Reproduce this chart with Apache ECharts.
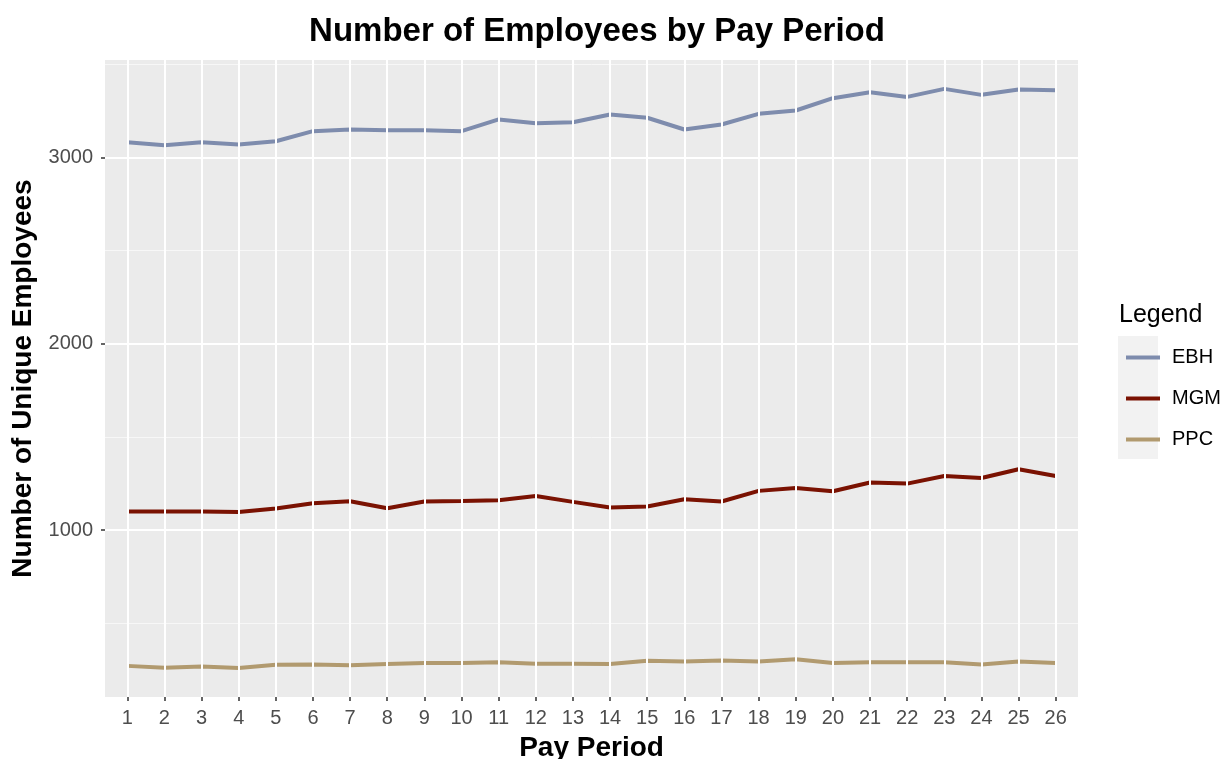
<!DOCTYPE html>
<html>
<head>
<meta charset="utf-8">
<script src="https://cdn.jsdelivr.net/npm/echarts@6/dist/echarts.min.js"></script>
<style>html,body{margin:0;padding:0;background:#fff}#c{width:1224px;height:759px}</style>
</head>
<body>
<div id="c"></div>
<script>
const periods = [1,2,3,4,5,6,7,8,9,10,11,12,13,14,15,16,17,18,19,20,21,22,23,24,25,26];
const ebh = [3082,3066,3082,3070,3087,3141,3150,3146,3146,3141,3204,3184,3189,3231,3213,3150,3177,3234,3252,3318,3350,3325,3368,3336,3365,3361];
const mgm = [1100,1100,1100,1098,1116,1145,1155,1118,1154,1157,1161,1184,1152,1122,1127,1166,1154,1211,1227,1209,1256,1250,1291,1280,1327,1291];
const ppc = [272,262,269,260,278,280,275,282,287,288,292,283,283,282,299,296,301,296,307,288,291,292,292,280,296,288];
const yTicks = [1000,2000,3000];
const yMinor = [500,1500,2500,3500];
const seriesNames = ['EBH','MGM','PPC'];
const colors = ['#7e8cad','#7a1202','#b19a6f'];

const font = 'Liberation Sans, Arial, sans-serif';
const chart = echarts.init(document.getElementById('c'), null, {renderer:'canvas'});

function pairs(arr){ return arr.map((v,i)=>[periods[i], v]); }

const gridLines = [];
yMinor.forEach(v=>gridLines.push({yAxis:v, lineStyle:{color:'#f7f7f7', width:1, type:'solid'}}));
yTicks.forEach(v=>gridLines.push({yAxis:v, lineStyle:{color:'#ffffff', width:2, type:'solid'}}));
periods.forEach(v=>gridLines.push({xAxis:v, lineStyle:{color:'#ffffff', width:2, type:'solid'}}));

const option = {
  animation:false,
  backgroundColor:'#ffffff',
  title:[
    {text:'Number of Employees by Pay Period', left:592, top:10, textAlign:'center',
     textStyle:{fontFamily:font, fontWeight:'bold', fontSize:33, color:'#000'}},
    {text:'Legend', left:1114, top:298,
     textStyle:{fontFamily:font, fontWeight:'normal', fontSize:25, color:'#000'}}
  ],
  graphic:[
    {type:'rect', left:1118, top:336, shape:{width:40, height:123}, style:{fill:'#f2f2f2'}, z:0}
  ],
  legend:{
    orient:'vertical', left:1121, top:342,
    itemWidth:34, itemHeight:4, itemGap:20,
    icon:'rect',
    data:seriesNames,
    textStyle:{fontFamily:font, fontSize:20, color:'#000', lineHeight:21, padding:[0,0,0,7]}
  },
  grid:{left:105, right:146, top:60, bottom:62, show:true, backgroundColor:'#ebebeb', borderWidth:0, outerBoundsMode:'none', containLabel:false},
  xAxis:{
    type:'value', min:0.4, max:26.6,
    name:'Pay Period', nameLocation:'middle', nameGap:37,
    nameTextStyle:{fontFamily:font, fontWeight:'bold', fontSize:28, color:'#000'},
    axisLine:{show:false},
    axisTick:{show:true, length:4, lineStyle:{color:'#333', width:1.5}, customValues:periods},
    axisLabel:{fontFamily:font, fontSize:20, color:'#4d4d4d', margin:11, customValues:periods},
    splitLine:{show:false}
  },
  yAxis:{
    type:'value', min:105, max:3523,
    name:'Number of Unique Employees', nameLocation:'middle', nameGap:57,
    nameTextStyle:{fontFamily:font, fontWeight:'bold', fontSize:28, color:'#000'},
    axisLine:{show:false},
    axisTick:{show:true, length:4, lineStyle:{color:'#333', width:1.5}, customValues:yTicks},
    axisLabel:{fontFamily:font, fontSize:20, color:'#4d4d4d', margin:12, customValues:yTicks, formatter:v=>String(v)},
    splitLine:{show:false}
  },
  series:[
    {type:'line', name:'__grid', data:[], silent:true, z:1,
     markLine:{silent:true, symbol:['none','none'], label:{show:false}, animation:false, lineStyle:{type:'solid'}, data:gridLines}},
    {type:'line', name:'EBH', data:pairs(ebh), showSymbol:false, z:3, lineStyle:{width:4, color:colors[0]}, itemStyle:{color:colors[0]}},
    {type:'line', name:'MGM', data:pairs(mgm), showSymbol:false, z:3, lineStyle:{width:4, color:colors[1]}, itemStyle:{color:colors[1]}},
    {type:'line', name:'PPC', data:pairs(ppc), showSymbol:false, z:3, lineStyle:{width:4, color:colors[2]}, itemStyle:{color:colors[2]}}
  ]
};
chart.setOption(option);
</script>
</body>
</html>
